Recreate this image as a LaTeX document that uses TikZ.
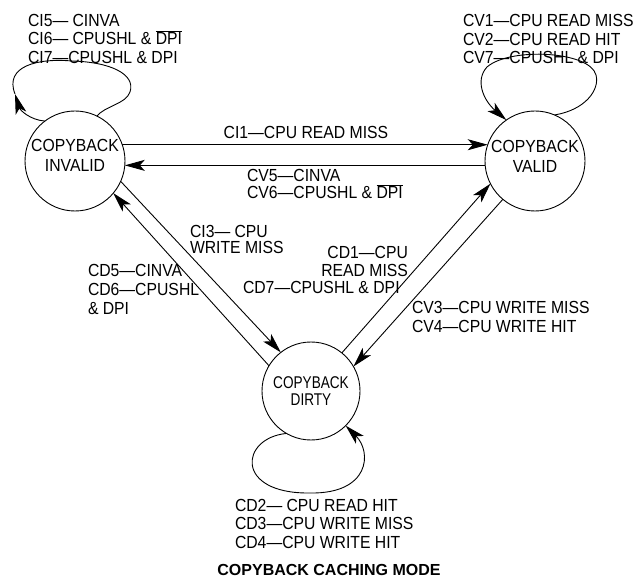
\documentclass[tikz,border=0pt]{standalone}
\usepackage{fontspec}
\setmainfont{Liberation Sans}[FakeStretch=0.9]
\newfontfamily\dirtyfont{Liberation Sans}[FakeStretch=0.8]
\newfontfamily\titlefont{Liberation Sans}
\usetikzlibrary{arrows.meta}
\newcommand{\nDPI}{\ensuremath{\overline{\mbox{DPI}}}}
\begin{document}
\begin{tikzpicture}[x=1pt,y=-1pt,line width=0.9pt,
  state/.style={circle,draw,inner sep=0pt,outer sep=0pt,minimum size=100pt,align=center,
    font=\fontsize{17.5}{20}\selectfont},
  lbl/.style={inner sep=0pt,outer sep=0pt,anchor=west,align=left,
    font=\fontsize{17.5}{#1}\selectfont},
  lbl/.default=18.5,
  titlestyle/.style={inner sep=0pt,font=\titlefont\bfseries\fontsize{16}{18}\selectfont},
  arr/.style={-{Stealth[length=20pt,width=11pt,inset=5pt]}}]
\useasboundingbox (0,0) rectangle (638,580);

% states
\node[state,text depth=12pt] (inv) at (75,161) {COPYBACK\\INVALID};
\node[state,text depth=10pt] (val) at (535,161) {COPYBACK\\VALID};
\node[state,minimum size=98pt,font=\dirtyfont\fontsize{17}{17}\selectfont] (dirty) at (311,391) {COPYBACK\\DIRTY};

% transitions between states
\draw[arr] (inv.19) -- (val.161);
\draw[arr] (val.185) -- (inv.-5);
\draw[arr] (dirty.149) -- (inv.-40);
\draw[arr] (inv.-24) -- (dirty.128);
\draw[arr] (dirty.51) -- (val.207);
\draw[arr] (val.230) -- (dirty.30);

% self loops
\coordinate (tipI) at (15,94);
\draw[arr] (inv.127) .. controls (30,120) and (20,110) .. (tipI);
\draw (tipI) .. controls (4,66) and (38,58) .. (72,61)
  .. controls (110,62) and (136,74) .. (130,92)
  .. controls (126,104) and (105,106) .. (inv.64);
\draw[arr] (val.67) .. controls (585,110) and (600,90) .. (596,75)
  .. controls (590,51) and (510,47) .. (487,67)
  .. controls (475,80) and (483,100) .. (val.125);
\draw[arr] (dirty.-120) .. controls (240,438) and (234,494) .. (310,493)
  .. controls (370,494) and (372,452) .. (dirty.-45);

% labels
\node[lbl] (lci5) at (28,38.5) {CI5— CINVA\\CI6— CPUSHL \& \nDPI\\CI7—CPUSHL \& DPI};
\node[lbl] (lcv1) at (463,39) {CV1—CPU READ MISS\\CV2—CPU READ HIT\\CV7—CPUSHL \& DPI};
\node[lbl,anchor=center] (lci1) at (306,132) {CI1—CPU READ MISS};
\node[lbl=16.5] (lcv5) at (247,184) {CV5—CINVA\\CV6—CPUSHL \& \nDPI};
\node[lbl=16] (lci3) at (190,239) {CI3— CPU\\WRITE MISS};
\node[lbl=19] (lcd5) at (88,289) {CD5—CINVA\\CD6—CPUSHL\\\& DPI};
\node[lbl=18,anchor=east,align=right] (lcd1) at (408,261) {CD1—CPU\\READ MISS};
\node[lbl] (lcd7) at (243,287) {CD7—CPUSHL \& DPI};
\node[lbl=19] (lcv3) at (412,316.5) {CV3—CPU WRITE MISS\\CV4—CPU WRITE HIT};
\node[lbl] (lcd2) at (235,523.5) {CD2— CPU READ HIT\\CD3—CPU WRITE MISS\\CD4—CPU WRITE HIT};
\node[titlestyle] (title) at (329,570) {COPYBACK CACHING MODE};
\end{tikzpicture}
\end{document}
